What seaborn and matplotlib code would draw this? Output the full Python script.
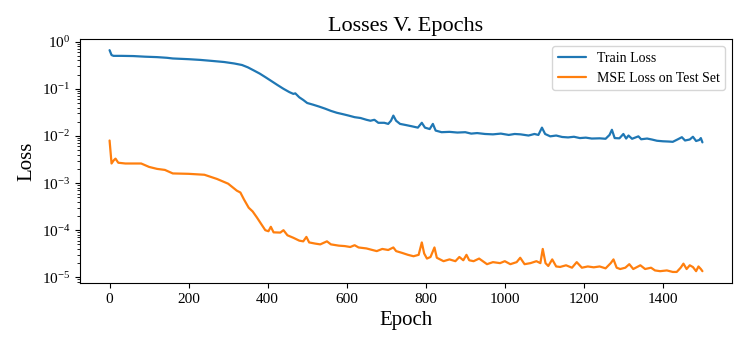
import pandas as pd
import matplotlib
matplotlib.use("Agg")
import matplotlib.pyplot as plt
from matplotlib.ticker import LogLocator
import seaborn as sns

# values
train_epochs = [0, 5, 10, 30, 60, 90, 120, 145, 160, 200, 230, 260, 290, 315, 335,
                350, 365, 380, 395, 410, 425, 440, 455, 465, 470, 480, 490, 500,
                515, 530, 545, 560, 575, 590, 605, 620, 635, 650, 660, 670, 680,
                695, 705, 712, 718, 725, 735, 750, 765, 780, 790, 798, 810, 818,
                825, 840, 860, 880, 900, 915, 930, 950, 970, 990, 1010, 1025, 1040,
                1060, 1075, 1085, 1094, 1102, 1115, 1130, 1145, 1160, 1175, 1190,
                1205, 1220, 1240, 1255, 1265, 1271, 1278, 1290, 1300, 1307, 1313,
                1322, 1338, 1345, 1360, 1372, 1385, 1400, 1415, 1425, 1438, 1448,
                1456, 1468, 1476, 1484, 1492, 1496, 1500]
train_loss = [0.66, 0.52, 0.50, 0.50, 0.495, 0.48, 0.47, 0.455, 0.44, 0.425, 0.41,
              0.39, 0.37, 0.345, 0.32, 0.285, 0.245, 0.21, 0.175, 0.145, 0.12, 0.10,
              0.085, 0.078, 0.08, 0.066, 0.058, 0.05, 0.046, 0.042, 0.038, 0.034,
              0.031, 0.029, 0.027, 0.025, 0.024, 0.022, 0.021, 0.022, 0.019, 0.019,
              0.018, 0.021, 0.027, 0.021, 0.018, 0.017, 0.016, 0.015, 0.019, 0.015,
              0.014, 0.018, 0.013, 0.012, 0.0122, 0.0118, 0.012, 0.0112, 0.0115,
              0.011, 0.0108, 0.0112, 0.0105, 0.011, 0.0108, 0.0102, 0.011, 0.0105,
              0.015, 0.011, 0.0098, 0.0102, 0.0095, 0.0093, 0.0096, 0.009, 0.0092,
              0.0088, 0.0089, 0.0087, 0.0105, 0.0135, 0.009, 0.0089, 0.011, 0.0088,
              0.0102, 0.0087, 0.0098, 0.0085, 0.0088, 0.0084, 0.0079, 0.0077, 0.0076,
              0.0075, 0.0085, 0.0094, 0.008, 0.0084, 0.0096, 0.0078, 0.0082, 0.009,
              0.0073]

test_epochs = [0, 5, 10, 15, 22, 40, 80, 100, 120, 140, 160, 200, 240, 272, 300,
               322, 331, 340, 352, 362, 373, 385, 394, 402, 408, 415, 432, 440, 450,
               465, 480, 490, 498, 505, 520, 533, 550, 560, 580, 595, 609, 620, 630,
               650, 665, 676, 690, 705, 718, 725, 740, 755, 769, 782, 790, 796, 803,
               812, 822, 828, 845, 860, 875, 885, 895, 903, 910, 921, 935, 955, 970,
               988, 1000, 1014, 1030, 1039, 1050, 1065, 1080, 1090, 1096, 1103, 1110,
               1120, 1130, 1140, 1155, 1170, 1182, 1195, 1210, 1225, 1240, 1255, 1268,
               1275, 1283, 1292, 1305, 1315, 1325, 1343, 1355, 1370, 1380, 1393, 1410,
               1425, 1435, 1445, 1452, 1460, 1468, 1476, 1484, 1490, 1496, 1500]
test_loss = [8.0e-3, 2.6e-3, 3.0e-3, 3.3e-3, 2.7e-3, 2.6e-3, 2.6e-3, 2.2e-3, 2.0e-3,
             1.9e-3, 1.6e-3, 1.57e-3, 1.5e-3, 1.22e-3, 9.7e-4, 6.9e-4, 6.3e-4, 4.5e-4,
             3.0e-4, 2.5e-4, 1.85e-4, 1.3e-4, 1.0e-4, 9.5e-5, 1.18e-4, 9.0e-5, 8.9e-5,
             1.0e-4, 7.8e-5, 6.9e-5, 6.0e-5, 5.8e-5, 7.2e-5, 5.5e-5, 5.2e-5, 5.0e-5,
             5.8e-5, 5.0e-5, 4.7e-5, 4.6e-5, 4.4e-5, 4.8e-5, 4.3e-5, 4.1e-5, 3.8e-5,
             3.6e-5, 4.0e-5, 3.8e-5, 4.3e-5, 3.6e-5, 3.3e-5, 3.0e-5, 2.8e-5, 3.0e-5,
             5.5e-5, 3.2e-5, 2.5e-5, 2.7e-5, 4.3e-5, 2.6e-5, 2.2e-5, 2.4e-5, 2.2e-5,
             2.7e-5, 2.3e-5, 3.0e-5, 2.3e-5, 2.2e-5, 2.5e-5, 1.9e-5, 2.1e-5, 2.0e-5,
             2.2e-5, 1.9e-5, 2.1e-5, 2.6e-5, 1.9e-5, 2.0e-5, 2.2e-5, 2.0e-5, 4.0e-5,
             2.0e-5, 1.74e-5, 2.4e-5, 1.7e-5, 1.66e-5, 1.8e-5, 1.6e-5, 2.1e-5, 1.6e-5,
             1.7e-5, 1.63e-5, 1.7e-5, 1.55e-5, 2.0e-5, 2.4e-5, 1.6e-5, 1.5e-5, 1.6e-5,
             1.9e-5, 1.5e-5, 1.8e-5, 1.5e-5, 1.6e-5, 1.4e-5, 1.35e-5, 1.4e-5, 1.3e-5,
             1.3e-5, 1.6e-5, 1.95e-5, 1.5e-5, 1.8e-5, 1.65e-5, 1.35e-5, 1.7e-5, 1.5e-5,
             1.35e-5]

series_names = ["Train Loss", "MSE Loss on Test Set"]

df = pd.concat([
    pd.DataFrame({"Epoch": train_epochs, "Loss": train_loss, "series": series_names[0]}),
    pd.DataFrame({"Epoch": test_epochs, "Loss": test_loss, "series": series_names[1]}),
], ignore_index=True)

sns.set_style("ticks", {
    "axes.edgecolor": "black", "text.color": "black", "axes.labelcolor": "black",
    "xtick.color": "black", "ytick.color": "black",
})
plt.rcParams["font.family"] = ["Liberation Serif", "DejaVu Serif"]
plt.rcParams["mathtext.fontset"] = "stix"
plt.rcParams["axes.linewidth"] = 0.8

fig, ax = plt.subplots(figsize=(7.47, 3.49), dpi=100)
fig.subplots_adjust(left=0.107, right=0.980, top=0.888, bottom=0.189)

sns.lineplot(data=df, x="Epoch", y="Loss", hue="series", estimator=None,
             palette=["#1f77b4", "#ff7f0e"], linewidth=1.6, ax=ax)
ax.set_yscale("log")
# log minor ticks on y, like the original
ax.yaxis.set_minor_locator(LogLocator(base=10, subs=range(2, 10), numticks=20))
ax.set_title("Losses V. Epochs", fontsize=16)
ax.set_xlabel("Epoch", fontsize=15)
ax.set_ylabel("Loss", fontsize=15)
ax.tick_params(which="major", labelsize=11, length=3.5, width=0.8)
ax.tick_params(axis="y", which="minor", length=2.5, width=0.6)
ax.legend(title=None, fontsize=10, loc="upper right")

fig.savefig("out.png", dpi=100)
